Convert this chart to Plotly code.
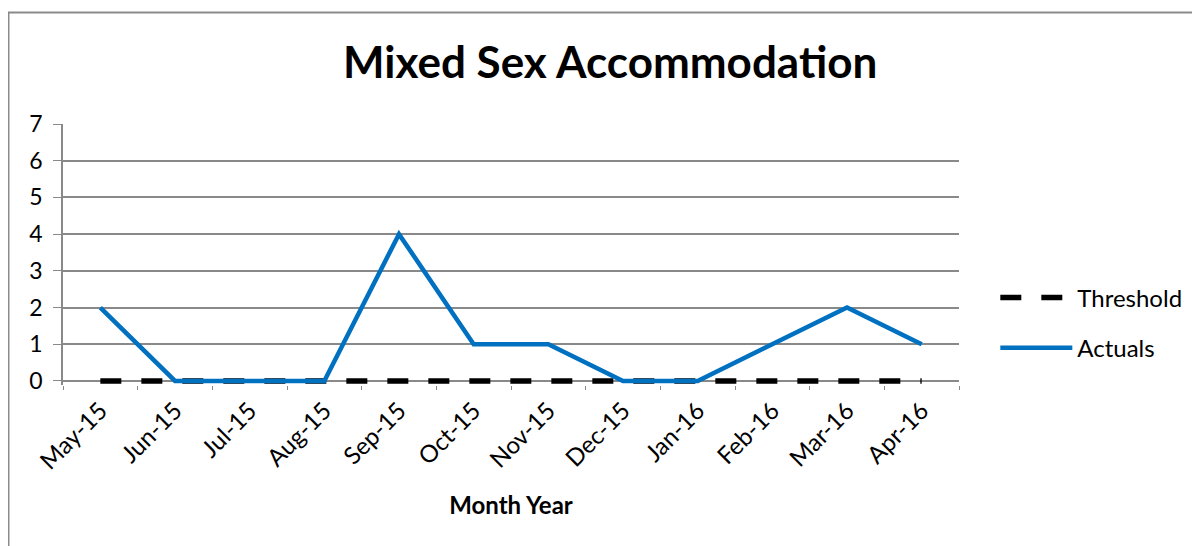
import plotly.graph_objects as go

months = ["May-15", "Jun-15", "Jul-15", "Aug-15", "Sep-15", "Oct-15",
          "Nov-15", "Dec-15", "Jan-16", "Feb-16", "Mar-16", "Apr-16"]
actuals = [2, 0, 0, 0, 4, 1, 1, 0, 0, 1, 2, 1]
threshold = [0, 0, 0, 0, 0, 0, 0, 0, 0, 0, 0, 0]
y_ticks = [0, 1, 2, 3, 4, 5, 6, 7]

FONT = "Lato, Carlito, Calibri, sans-serif"
GRID = "#898989"

# page body has an 8px margin: figure pixel = reference pixel - 8
OFF = 8
W, H = 1200 - OFF, 546 - OFF

fig = go.Figure()
fig.add_trace(go.Scatter(
    x=months, y=threshold, name="Threshold", mode="lines",
    line=dict(color="black", width=5.5, dash="21px,20px"),
    legendgroup="t",
))
fig.add_trace(go.Scatter(
    x=months, y=actuals, name="Actuals", mode="lines",
    line=dict(color="#0070C0", width=4.5),
    legendgroup="a",
))

# reference pixel geometry
UNIT = (381 - 124) / 7.0          # px per y unit
YMIN = -0.11                        # small pad so the 0-level line is not clipped
L, R = 63 - OFF, 958.7 - OFF
T = 124 - OFF
B = 381 - OFF + (-YMIN) * UNIT
pw, ph = R - L, B - T

def px(x):
    return (x - OFF - L) / pw

def py(y):
    return (B - (y - OFF)) / ph

fig.update_layout(
    width=W, height=H,
    margin=dict(l=L, r=W - R, t=T, b=H - B),
    paper_bgcolor="white", plot_bgcolor="white",
    font=dict(family=FONT, size=22, color="black"),
    title=dict(text="<b>Mixed Sex Accommodation</b>", x=px(610), xanchor="center",
               xref="paper", y=1 - (63 - OFF) / H, yanchor="middle",
               font=dict(size=44, family=FONT)),
    showlegend=True,
    legend=dict(x=px(995), xanchor="left", y=py(323), yanchor="middle",
                font=dict(size=24, family=FONT), itemwidth=72,
                tracegroupgap=16, bgcolor="rgba(0,0,0,0)"),
    xaxis=dict(
        type="category", categoryarray=months, range=[-0.5, 11.5],
        tickson="boundaries", ticks="outside", ticklen=4, tickcolor=GRID,
        showline=False, showgrid=False, layer="below traces",
        tickangle=-45, tickfont=dict(size=24, family=FONT), ticklabelstandoff=6,
        title=dict(text="<b>Month Year</b>", font=dict(size=24, family=FONT), standoff=23),
    ),
    yaxis=dict(
        range=[YMIN, 7], tickvals=y_ticks, ticks="outside", ticklen=8, tickcolor=GRID,
        showline=True, linecolor=GRID, linewidth=1.5, layer="below traces",
        showgrid=True, gridcolor=GRID, gridwidth=1.5,
        zeroline=True, zerolinecolor=GRID, zerolinewidth=1.5,
        tickfont=dict(size=23, family=FONT), ticklabelstandoff=6,
    ),
    shapes=[dict(type="rect", xref="paper", yref="paper",
                 x0=px(8.5), x1=px(1260), y0=py(12.5), y1=py(620),
                 line=dict(color="#8a8a8a", width=2), fillcolor="rgba(0,0,0,0)", layer="below")],
)

fig.write_html("out.html")
